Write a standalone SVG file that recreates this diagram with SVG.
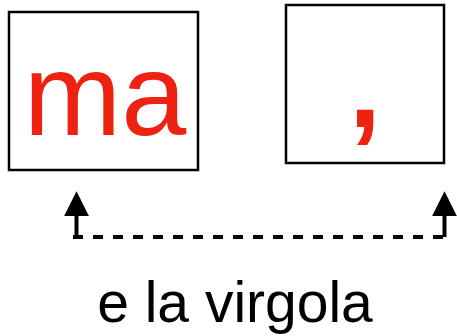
<svg xmlns="http://www.w3.org/2000/svg" width="457" height="336" viewBox="0 0 457 336">
<style>
.box{fill:#fff;stroke:#000;stroke-width:2.5}
.red{fill:#ee2211;font-family:"Liberation Sans",Arial,sans-serif;text-anchor:middle}
.lbl{fill:#000;font-family:"Liberation Sans",Arial,sans-serif;text-anchor:middle;font-size:57px}
.ln{stroke:#000;stroke-width:4;fill:none}
</style>
<defs>
<marker id="ah" viewBox="0 0 10 10" refX="0" refY="5" markerWidth="6.2" markerHeight="6.2" orient="auto" markerUnits="strokeWidth">
<path d="M0,0 L10,5 L0,10 z" fill="#000"/>
</marker>
</defs>
<rect width="457" height="336" fill="#fff"/>
<g id="node-ma">
<rect class="box" x="9" y="12" width="189" height="158"/>
<text class="red" x="105" y="135" font-size="117">ma</text>
</g>
<g id="node-comma">
<rect class="box" x="286" y="5" width="158" height="158"/>
<text class="red" x="365" y="127" font-size="115" font-weight="bold">,</text>
</g>
<g id="connectors">
<line class="ln" x1="76.5" y1="237" x2="76.5" y2="216" marker-end="url(#ah)"/>
<line class="ln" x1="444.5" y1="237" x2="444.5" y2="216" marker-end="url(#ah)"/>
<line class="ln" x1="73" y1="237" x2="447" y2="237" stroke-dasharray="10,10"/>
</g>
<text class="lbl" x="235" y="322">e la virgola</text>
</svg>
